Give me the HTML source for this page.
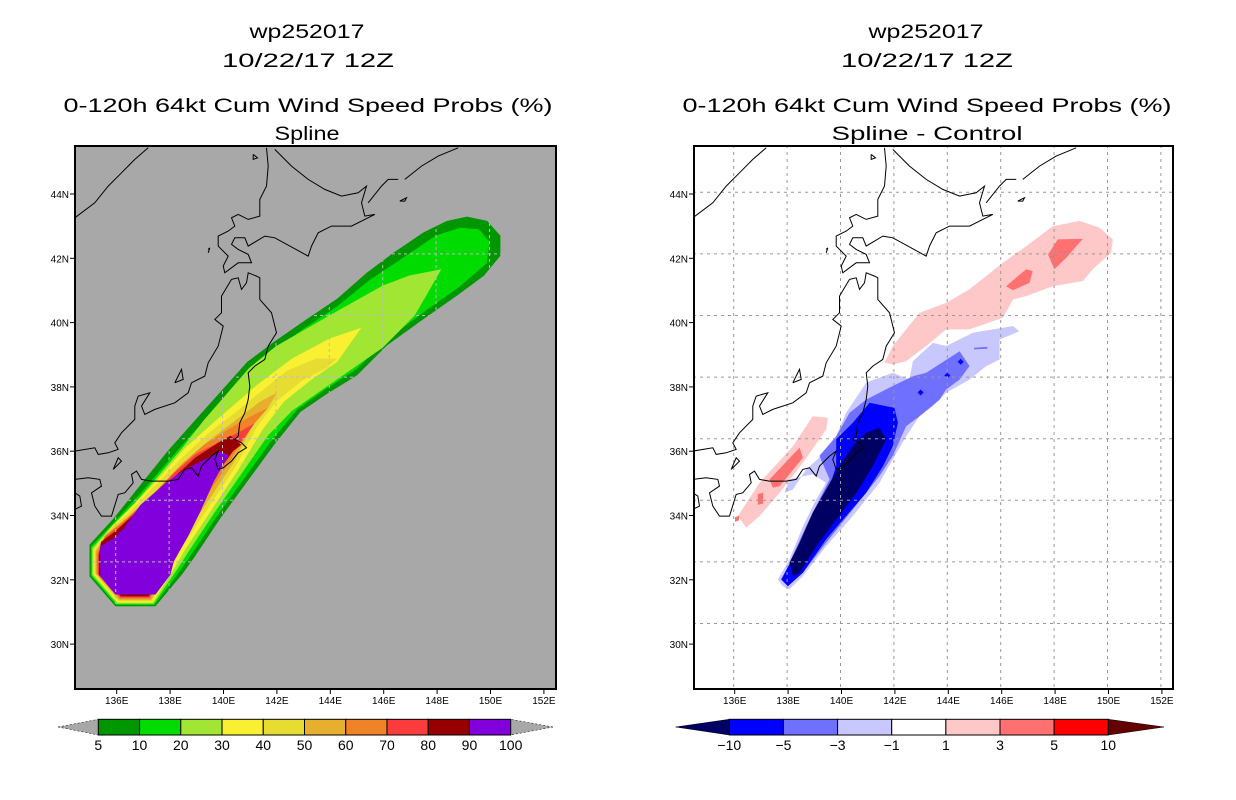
<!DOCTYPE html>
<html><head><meta charset="utf-8"><style>
html,body{margin:0;padding:0;background:#fff;width:1236px;height:800px;overflow:hidden}
svg{display:block}
text{font-family:"Liberation Sans",sans-serif;fill:#000}
</style></head><body>
<svg id="fig" width="1236" height="800" viewBox="0 0 1236 800" xmlns="http://www.w3.org/2000/svg">
<g id="titles">
<text x="307" y="38" font-size="19" text-anchor="middle" textLength="115" lengthAdjust="spacingAndGlyphs">wp252017</text>
<text x="308" y="67" font-size="19" text-anchor="middle" textLength="172" lengthAdjust="spacingAndGlyphs">10/22/17 12Z</text>
<text x="308" y="112" font-size="19" text-anchor="middle" textLength="489" lengthAdjust="spacingAndGlyphs">0-120h 64kt Cum Wind Speed Probs (%)</text>
<text x="307" y="140" font-size="19" text-anchor="middle" textLength="65" lengthAdjust="spacingAndGlyphs">Spline</text>
<text x="926" y="38" font-size="19" text-anchor="middle" textLength="115" lengthAdjust="spacingAndGlyphs">wp252017</text>
<text x="927" y="67" font-size="19" text-anchor="middle" textLength="172" lengthAdjust="spacingAndGlyphs">10/22/17 12Z</text>
<text x="927" y="112" font-size="19" text-anchor="middle" textLength="489" lengthAdjust="spacingAndGlyphs">0-120h 64kt Cum Wind Speed Probs (%)</text>
<text x="927" y="140" font-size="19" text-anchor="middle" textLength="191" lengthAdjust="spacingAndGlyphs">Spline - Control</text>
</g>
<defs>
<clipPath id="clipL"><rect x="74" y="145" width="483" height="545"/></clipPath>
<clipPath id="clipR"><rect x="693" y="145" width="481" height="545"/></clipPath>
<clipPath id="clipPlume"><path id="plumeClipPath" d=""/></clipPath>
</defs>
<rect x="74" y="145" width="483" height="545" fill="#a8a8a8"/>
<rect x="693" y="145" width="481" height="545" fill="#ffffff"/>
<g id="leftMap" clip-path="url(#clipL)"></g>
<g id="rightMap" clip-path="url(#clipR)"></g>
<g id="axes"></g>
<rect x="75" y="146" width="481" height="543" fill="none" stroke="#000" stroke-width="2"/>
<rect x="694" y="146" width="479" height="543" fill="none" stroke="#000" stroke-width="2"/>
<g id="cbars"></g>
</svg>
<script>
// ---- data: contour levels and colors ----
const probLevels = ["5","10","20","30","40","50","60","70","80","90","100"];
const probColors = ["#009600","#00dc00","#a0e632","#faf032","#e6dc32","#e6af2d","#f08228","#fa3c3c","#960000","#8200dc"];
const diffLevels = ["-10","-5","-3","-1","1","3","5","10"];
const diffColors = ["#0000ff","#7070ff","#c8c8ff","#ffffff","#ffc8c8","#ff7070","#ff0000"];
const lonTicks = [136,138,140,142,144,146,148,150,152];
const latTicks = [44,42,40,38,36,34,32,30];
const gridLats = [44,42,40,38,36,34,32,30];

// probability contour polygons (lon, lat)
const prob5 = [[135.02,32.56],[135.02,31.53],[135.99,30.56],[137.49,30.56],[138.49,31.6],[138.92,32.12],[139.92,33.42],[140.92,34.6],[141.92,35.79],[142.92,36.87],[143.92,37.46],[145.04,38.06],[146.16,39.03],[147.54,39.89],[148.79,40.65],[149.79,41.29],[150.41,41.94],[150.41,42.59],[149.91,43.07],[149.16,43.21],[148.41,43.07],[147.54,42.7],[146.42,42.05],[145.42,41.4],[144.29,40.54],[143.17,39.89],[141.92,39.14],[140.92,38.49],[139.92,37.52],[138.92,36.55],[137.93,35.58],[136.93,34.5],[135.93,33.42]];
const prob10 = [[135.07,32.5],[135.07,31.55],[136.02,30.6],[137.45,30.6],[138.4,31.7],[138.8,32.2],[139.8,33.5],[140.8,34.7],[141.8,35.9],[142.8,36.95],[143.85,37.6],[145.0,38.25],[146.2,39.25],[147.6,40.15],[148.9,40.95],[149.9,41.7],[150.0,42.4],[149.6,42.8],[148.9,42.85],[148.0,42.6],[146.8,41.9],[145.5,41.15],[144.3,40.3],[143.0,39.55],[141.8,38.75],[140.8,38.05],[139.9,37.1],[138.9,36.2],[137.9,35.2],[136.9,34.2],[135.95,33.3]];
const prob20 = [[135.12,32.45],[135.12,31.57],[136.05,30.64],[137.42,30.64],[138.3,31.75],[138.7,32.3],[139.7,33.6],[140.7,34.85],[141.7,36.1],[142.6,36.9],[144.0,37.75],[146.0,38.95],[147.2,40.0],[148.2,41.5],[147.0,41.3],[146.0,40.97],[144.0,40.0],[142.0,39.0],[141.0,38.3],[140.1,37.4],[139.3,36.6],[138.5,35.7],[137.6,34.8],[136.7,33.9],[135.9,33.2]];
const prob30 = [[135.17,32.4],[135.17,31.6],[136.08,30.68],[137.39,30.68],[138.2,31.8],[138.6,32.4],[139.6,33.7],[140.6,35.0],[141.5,36.3],[142.3,37.2],[143.3,37.9],[144.3,38.5],[145.2,39.6],[144.0,39.25],[142.6,38.6],[141.3,37.75],[140.3,37.0],[139.5,36.4],[138.6,35.7],[137.6,34.7],[136.6,33.8],[135.8,33.1]];
const prob40 = [[135.21,32.38],[135.21,31.62],[136.1,30.72],[137.36,30.72],[138.1,31.85],[138.5,32.5],[139.5,33.8],[140.5,35.1],[141.3,36.4],[142.0,37.2],[143.0,37.9],[143.9,38.3],[144.3,38.6],[143.5,38.6],[142.4,38.2],[141.4,37.5],[140.4,36.8],[139.5,36.2],[138.5,35.4],[137.5,34.5],[136.5,33.6],[135.7,33.0]];
const prob50 = [[135.25,32.35],[135.25,31.64],[136.12,30.76],[137.33,30.76],[138.0,31.9],[138.4,32.6],[139.4,33.9],[140.4,35.2],[141.1,36.4],[141.7,37.0],[142.05,37.5],[141.4,37.2],[140.5,36.6],[139.5,35.95],[138.5,35.2],[137.5,34.3],[136.5,33.5],[135.65,32.9]];
const prob60 = [[135.29,32.3],[135.29,31.6],[136.15,30.8],[137.3,30.8],[137.95,31.95],[138.3,32.7],[139.3,34.0],[140.3,35.3],[140.9,36.2],[141.4,36.7],[141.7,37.0],[141.0,36.7],[140.2,36.3],[139.3,35.8],[138.4,35.1],[137.4,34.2],[136.4,33.4],[135.6,32.85]];
const prob70 = [[135.33,32.25],[135.33,31.6],[136.18,30.84],[137.27,30.84],[137.9,32.0],[138.25,32.8],[139.2,34.1],[140.2,35.4],[140.8,36.0],[141.2,36.5],[140.6,36.2],[139.9,35.9],[139.0,35.5],[138.2,34.9],[137.2,34.0],[136.2,33.2],[135.6,32.8]];
const prob80 = [[135.37,32.2],[135.37,31.58],[136.2,30.88],[137.24,30.88],[137.85,32.05],[138.2,32.9],[139.0,34.0],[139.9,35.0],[140.4,35.6],[140.7,35.8],[140.3,36.1],[139.9,35.9],[139.0,35.4],[138.0,34.6],[137.0,33.8],[136.0,33.0],[135.45,32.65]];
const prob90 = [[135.42,32.5],[135.42,31.53],[135.99,30.94],[137.49,30.94],[138.05,31.58],[138.18,32.02],[138.74,32.88],[139.17,33.63],[139.67,34.6],[140.23,35.47],[139.92,35.58],[139.17,35.25],[138.55,34.98],[137.93,34.6],[136.93,33.85],[136.3,33.09],[135.93,32.77]];
const probPolys = [prob5,prob10,prob20,prob30,prob40,prob50,prob60,prob70,prob80,prob90];

// difference contour polygons (lon, lat)
const diffPinkNE = [[141.65,38.47],[141.96,39.01],[142.96,40.09],[143.96,40.41],[144.83,40.85],[146.08,41.71],[146.95,42.25],[147.95,42.9],[148.95,43.07],[149.7,42.85],[150.2,42.47],[150.14,42.04],[149.45,41.5],[149.08,41.12],[147.95,40.95],[146.95,40.63],[146.46,40.52],[146.08,39.93],[144.83,39.55],[143.96,39.55],[143.21,39.01],[142.46,38.52],[141.96,38.41]];
const diffRedNE1 = [[147.77,41.98],[148.14,42.47],[149.08,42.49],[148.45,41.87],[148.01,41.5]];
const diffRedNE2 = [[146.2,40.95],[146.95,41.5],[147.2,41.44],[147.08,41.06],[146.46,40.82]];
const diffPinkSW = [[136.16,33.49],[136.97,34.57],[138.22,35.76],[138.96,36.73],[139.53,36.68],[139.46,36.3],[138.59,35.22],[137.72,34.24],[136.97,33.49],[136.47,33.11]];
const diffRedSW1 = [[137.34,34.68],[138.47,35.71],[138.59,35.38],[137.72,34.46],[137.47,34.41]];
const diffRedSW2 = [[136.9,34.2],[137.1,34.25],[137.1,33.9],[136.9,33.85]];
const diffRedSW3 = [[136.05,33.45],[136.2,33.5],[136.2,33.35],[136.05,33.3]];
const diffLight = [[137.84,31.21],[137.65,31.43],[138.09,32.08],[138.59,33.16],[139.09,34.03],[139.46,34.57],[138.96,34.84],[138.09,34.68],[137.9,34.24],[138.22,34.35],[138.71,35.0],[139.28,35.44],[139.84,36.08],[140.21,36.84],[140.71,37.49],[140.96,37.82],[141.96,38.14],[142.58,37.92],[142.71,38.52],[143.46,39.11],[143.96,39.01],[144.96,39.44],[146.46,39.66],[146.7,39.49],[145.96,39.22],[145.96,38.57],[145.46,38.36],[144.83,37.92],[143.96,37.49],[143.46,37.06],[142.96,36.73],[142.46,36.08],[141.96,35.33],[141.46,34.57],[140.46,33.49],[139.46,32.51],[138.59,31.54],[138.09,31.11]];
const diffMed = [[138.09,31.97],[138.71,33.16],[139.21,34.03],[139.59,34.68],[139.21,35.44],[139.84,36.08],[140.34,36.84],[140.96,37.27],[141.96,37.71],[142.71,38.03],[143.21,38.14],[144.46,38.84],[144.83,38.36],[144.46,37.92],[143.96,37.6],[143.71,37.27],[142.96,36.73],[142.46,36.41],[141.96,35.44],[141.46,34.79],[140.46,33.7],[139.46,32.62],[138.59,31.65],[138.09,31.43]];
const diffBlue = [[137.78,31.43],[138.15,32.03],[138.59,32.51],[139.09,33.6],[139.59,34.46],[139.84,35.11],[139.84,35.98],[140.46,36.52],[141.09,37.17],[142.02,37.0],[142.15,36.52],[141.96,35.76],[141.59,35.11],[140.96,34.24],[140.21,33.49],[139.46,32.73],[138.59,31.65],[138.03,31.21]];
const diffNavy = [[138.09,31.97],[138.47,32.62],[138.96,33.6],[139.46,34.35],[139.96,35.11],[140.46,35.76],[140.96,36.19],[141.46,36.35],[141.71,35.98],[141.21,35.11],[140.59,34.24],[139.84,33.38],[139.09,32.51],[138.47,31.65],[138.22,31.54]];
const diffBlueSpots = [[144.5,38.5],[144.0,38.05],[143.0,37.5]];
const diffMedSpot = [[145.0,38.95],[145.5,38.98],[145.5,38.92],[145.0,38.9]];

// coastline (base map, reference-grid units)
const coastLines = [
 [[0,215],[60,170],[100,120],[140,80],[180,40],[220,5]],
 [[575,5],[580,60],[575,120],[555,160],[555,210],[520,220],[490,205],[470,215],[480,240],[460,255],[430,270],[430,300],[460,330],[445,360],[450,380],[490,350],[530,350],[520,325],[490,310],[470,295],[480,275],[510,275],[520,300],[570,270],[600,275],[700,330],[710,300],[730,260],[770,240],[830,240],[900,205],[870,210],[860,170],[875,120],[850,140],[800,150],[750,130],[700,100],[650,60],[600,10]],
 [[470,400],[490,395],[500,430],[515,410],[520,380],[545,390],[555,395],[555,460],[590,500],[605,560],[580,600],[570,640],[540,660],[520,680],[525,720],[520,760],[510,800],[495,830],[490,870],[480,880],[500,890],[515,905],[490,920],[470,945],[445,965],[430,970],[420,940],[430,915],[410,930],[380,960],[370,990],[350,965],[330,970],[310,1000],[280,1005],[230,1005],[200,1000],[185,975],[170,985],[175,1010],[150,1040],[130,1045],[110,1110],[80,1110],[60,1080],[50,1040],[80,1020],[75,1000],[40,995],[0,1000]],
 [[470,400],[440,450],[440,500],[420,520],[445,540],[430,600],[400,650],[390,690],[350,710],[340,740],[300,770],[240,790],[210,805],[200,780],[225,740],[190,750],[180,780],[180,820],[140,860],[120,890],[130,910],[100,920],[70,925],[60,905],[0,915]],
 [[0,1040],[15,1050],[20,1080],[0,1090]],
 [[990,100],[1040,60],[1090,30],[1150,5]],
 [[880,170],[920,120],[940,100],[970,100]],
 [[975,165],[995,155],[990,165],[975,165]],
 [[400,320],[405,305],[400,310]],
 [[300,710],[320,670],[325,700],[300,710]],
 [[535,25],[548,35],[535,40],[535,25]],
 [[115,970],[130,935],[140,945],[115,970]]
];

// ---- projection ----
const NS="http://www.w3.org/2000/svg";
function xOf(lon,off){return 115.7+(lon-136)*26.7+off;}
function yOf(lat){return 192.3+(44-lat)*30.8;}
function pathOf(pts,off,close){return pts.map((p,i)=>(i?"L":"M")+xOf(p[0],off).toFixed(1)+","+yOf(p[1]).toFixed(1)).join("")+(close?"Z":"");}
function coastLL(p){return [134.47+p[0]/80.1,45.5-p[1]/92.4];}
function mk(tag,attrs,parent){const e=document.createElementNS(NS,tag);for(const k in attrs)e.setAttribute(k,attrs[k]);parent.appendChild(e);return e;}

const L=document.getElementById("leftMap"), R=document.getElementById("rightMap");
const OFFL=0, OFFR=618;

probPolys.forEach((poly,i)=>{
  const p=mk("path",{d:pathOf(poly,OFFL,true),fill:probColors[i]},L);
  
  
});
document.getElementById("plumeClipPath").setAttribute("d",pathOf(prob5,OFFL,true));
const gL=mk("g",{"clip-path":"url(#clipPlume)",stroke:"#bbbbbb","stroke-width":"1","stroke-dasharray":"3,3",fill:"none"},L);


lonTicks.forEach(lo=>mk("line",{x1:xOf(lo,OFFL),x2:xOf(lo,OFFL),y1:145,y2:690},gL));
gridLats.forEach(la=>mk("line",{x1:74,x2:557,y1:yOf(la),y2:yOf(la)},gL));

const diffSet=[[diffPinkNE,4,'diff-pink-ne'],[diffRedNE1,5,'diff-red-ne-1'],[diffRedNE2,5,'diff-red-ne-2'],[diffPinkSW,4,'diff-pink-sw'],[diffRedSW1,5,'diff-red-sw-1'],[diffRedSW2,5,'diff-red-sw-2'],[diffRedSW3,5,'diff-red-sw-3'],[diffLight,2,'diff-light-blue'],[diffMed,1,'diff-medium-blue'],[diffMedSpot,1,'diff-medium-spot'],[diffBlue,0,'diff-blue'],[diffNavy,-1,'diff-navy']];
diffSet.forEach(d=>{
  const col=d[1]<0?"#000064":diffColors[d[1]];
  const p=mk("path",{d:pathOf(d[0],OFFR,true),fill:col},R);
  
  
});
diffBlueSpots.forEach(s=>{
  const x=xOf(s[0],OFFR),y=yOf(s[1]);
  const p=mk("path",{d:`M${x},${y-3}L${x+3},${y}L${x},${y+3}L${x-3},${y}Z`,fill:"#0000ff"},R);
  
  
});
const gR=mk("g",{stroke:"#999999","stroke-width":"1","stroke-dasharray":"3,4",fill:"none"},R);


lonTicks.forEach(lo=>mk("line",{x1:xOf(lo,OFFR),x2:xOf(lo,OFFR),y1:145,y2:690},gR));
gridLats.forEach(la=>mk("line",{x1:693,x2:1174,y1:yOf(la),y2:yOf(la)},gR));

[[L,OFFL,'left'],[R,OFFR,'right']].forEach(([g,off,side])=>{
  const cg=mk("g",{stroke:"#000","stroke-width":"1",fill:"none"},g);
  
  
  coastLines.forEach(line=>mk("path",{d:pathOf(line.map(coastLL),off,false)},cg));
});

const A=document.getElementById("axes");
[[OFFL,74,'left'],[OFFR,693,'right']].forEach(([off,x0,side])=>{
  lonTicks.forEach(lo=>{
    const x=xOf(lo,off)+1;
    mk("line",{x1:x,x2:x,y1:690,y2:694,stroke:"#000"},A);
    const t=mk("text",{x:x,y:704,"font-size":"10","text-anchor":"middle"},A);
    t.textContent=lo+"E";
    
    
  });
  latTicks.forEach((la,i)=>{
    const y=194+i*64.3;
    mk("line",{x1:x0-4,x2:x0,y1:y,y2:y,stroke:"#000"},A);
    const t=mk("text",{x:x0-5,y:y+4,"font-size":"10","text-anchor":"end"},A);
    t.textContent=la+"N";
    
    
  });
});

const C=document.getElementById("cbars");
(function(){
  const x0=98.3,w=41.24,y0=719.3,h=15.7;
  const tl=mk("path",{d:`M58,727 L${x0},${y0} L${x0},${y0+h}Z`,fill:"#a8a8a8",stroke:"#000","stroke-width":"0.5","stroke-dasharray":"2,2"},C);
  
  
  const xe=x0+w*probColors.length;
  const tr=mk("path",{d:`M553,727 L${xe},${y0} L${xe},${y0+h}Z`,fill:"#a8a8a8",stroke:"#000","stroke-width":"0.5","stroke-dasharray":"2,2"},C);
  
  
  probColors.forEach((c,i)=>{
    const r=mk("rect",{x:x0+i*w,y:y0,width:w,height:h,fill:c,stroke:"#000","stroke-width":"1"},C);
    
    
  });
  probLevels.forEach((l,i)=>{
    const t=mk("text",{x:x0+i*w,y:750,"font-size":"14","text-anchor":"middle"},C);
    t.textContent=l;
    
    
  });
})();
(function(){
  const x0=729.3,w=54.14,y0=719.3,h=15.7;
  const xe=x0+w*diffColors.length;
  const tl=mk("path",{d:`M675.7,727 L${x0},${y0} L${x0},${y0+h}Z`,fill:"#000064",stroke:"#000","stroke-width":"0.5"},C);
  
  
  const tr=mk("path",{d:`M1164,727 L${xe},${y0} L${xe},${y0+h}Z`,fill:"#640000",stroke:"#000","stroke-width":"0.5"},C);
  
  
  diffColors.forEach((c,i)=>{
    const r=mk("rect",{x:x0+i*w,y:y0,width:w,height:h,fill:c,stroke:"#000","stroke-width":"1"},C);
    
    
  });
  diffLevels.forEach((l,i)=>{
    const t=mk("text",{x:x0+i*w,y:750,"font-size":"14","text-anchor":"middle"},C);
    t.textContent=l.replace("-","\u2212");
    
    
  });
})();
</script>
</body></html>
